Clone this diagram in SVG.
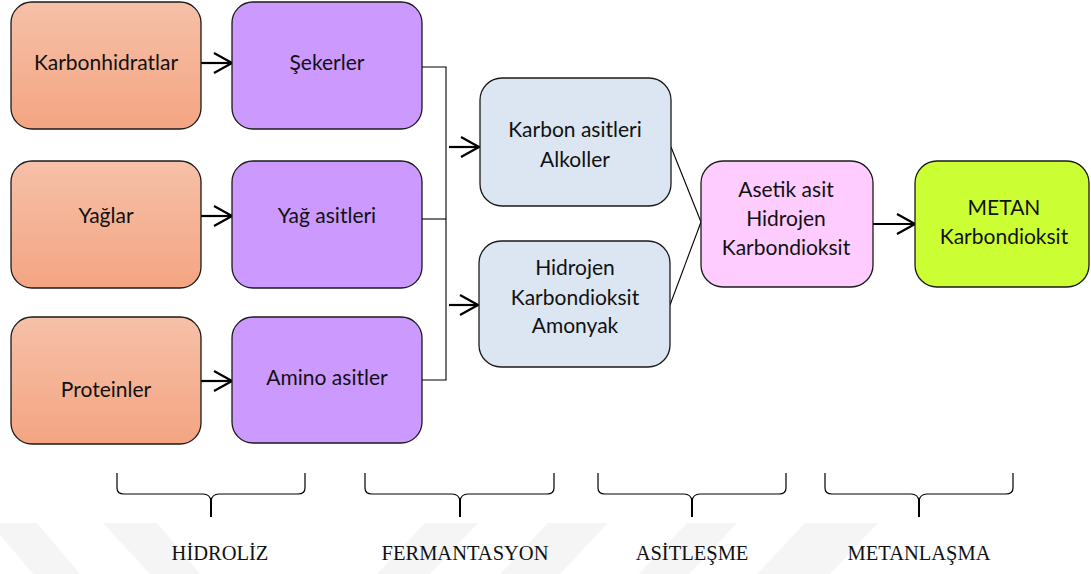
<svg xmlns="http://www.w3.org/2000/svg" width="1091" height="574" viewBox="0 0 1091 574">
<defs>
<linearGradient id="gOr" x1="0" y1="0" x2="0" y2="1">
<stop offset="0" stop-color="#F6C0A8"/>
<stop offset="1" stop-color="#F4A582"/>
</linearGradient>
<marker id="ah" viewBox="0 0 20 22" refX="19" refY="11" markerWidth="20" markerHeight="22" markerUnits="userSpaceOnUse" orient="auto">
<path d="M1,1 L19,11 L1,21" fill="none" stroke="#000" stroke-width="2.2"/>
</marker>
</defs>
<style>
.box{stroke:#1a1a1a;stroke-width:1.3}
.or{fill:url(#gOr)}
.pu{fill:#CC99FF}
.bl{fill:#DCE6F2}
.pk{fill:#FFCCFF}
.gr{fill:#CCFF33}
.t{font-family:Lato,"Open Sans",sans-serif;font-size:21px;fill:#111;text-anchor:middle}
.arr{stroke:#000;stroke-width:2.2;fill:none;marker-end:url(#ah)}
.ln{stroke:#000;stroke-width:1.1;fill:none}
.br{stroke:#000;stroke-width:1.2;fill:none}
.st{stroke:#000;stroke-width:2;fill:none}
.lab{font-family:"Liberation Serif","Times New Roman",serif;font-size:20.5px;fill:#111;text-anchor:middle}
.wm{fill:#f5f5f5}
</style>
<g id="watermark">
<polygon class="wm" points="-10,523 37,523 80,574 33,574"/>
<polygon class="wm" points="103,523 157,523 200,574 150,574"/>
<polygon class="wm" points="425,523 478,523 430,574 377,574"/>
<polygon class="wm" points="548,523 608,523 560,574 500,574"/>
<polygon class="wm" points="687,523 737,523 689,574 639,574"/>
<polygon class="wm" points="805,523 878,523 830,574 757,574"/>
</g>
<g id="connectors">
<line class="arr" x1="201" y1="63" x2="232" y2="63"/>
<line class="arr" x1="201" y1="216" x2="232" y2="216"/>
<line class="arr" x1="201" y1="381" x2="232" y2="381"/>
<polyline class="ln" points="422,67 446,67 446,380 422,380"/>
<line class="ln" x1="422" y1="219" x2="446" y2="219"/>
<line class="arr" x1="449" y1="147" x2="479" y2="147"/>
<line class="arr" x1="449" y1="305" x2="478" y2="305"/>
<line class="ln" x1="671" y1="147" x2="701" y2="222"/>
<line class="ln" x1="670" y1="305" x2="701" y2="222"/>
<line class="arr" x1="873" y1="224" x2="915" y2="224"/>
</g>
<g id="n-karbonhidratlar"><rect class="box or" x="11" y="2" width="190" height="127" rx="21"/><text class="t" x="106" y="70">Karbonhidratlar</text></g>
<g id="n-yaglar"><rect class="box or" x="11" y="161" width="190" height="127" rx="21"/><text class="t" x="106" y="223">Yağlar</text></g>
<g id="n-proteinler"><rect class="box or" x="11" y="317" width="190" height="127" rx="21"/><text class="t" x="106" y="397">Proteinler</text></g>
<g id="n-sekerler"><rect class="box pu" x="232" y="2" width="190" height="127" rx="21"/><text class="t" x="327" y="70">Şekerler</text></g>
<g id="n-yagasitleri"><rect class="box pu" x="232" y="161" width="190" height="127" rx="21"/><text class="t" x="327" y="223">Yağ asitleri</text></g>
<g id="n-aminoasitler"><rect class="box pu" x="232" y="317" width="190" height="126" rx="21"/><text class="t" x="327" y="385">Amino asitler</text></g>
<g id="n-karbonasitleri"><rect class="box bl" x="480" y="78" width="191" height="128" rx="22"/><text class="t" x="575" y="137">Karbon asitleri</text><text class="t" x="575" y="167">Alkoller</text></g>
<g id="n-hidrojen"><rect class="box bl" x="479" y="241" width="191" height="126" rx="22"/><text class="t" x="575" y="275">Hidrojen</text><text class="t" x="575" y="305">Karbondioksit</text><text class="t" x="575" y="333">Amonyak</text></g>
<g id="n-asetik"><rect class="box pk" x="701" y="161" width="172" height="126" rx="22"/><text class="t" x="786" y="197">Asetik asit</text><text class="t" x="786" y="226">Hidrojen</text><text class="t" x="786" y="255">Karbondioksit</text></g>
<g id="n-metan"><rect class="box gr" x="915" y="161" width="174" height="126" rx="22"/><text class="t" x="1004" y="215">METAN</text><text class="t" x="1004" y="244">Karbondioksit</text></g>
<g id="braces">
<path class="br" d="M117,473 L117,488 Q117,494 124,494 L203,494 Q210,494 211,501 M211,501 Q212,494 219,494 L298,494 Q305,494 305,488 L305,473"/>
<line class="st" x1="211" y1="500" x2="211" y2="517"/>
<path class="br" d="M365,473 L365,488 Q365,494 372,494 L452,494 Q459,494 460,501 M460,501 Q461,494 468,494 L547,494 Q554,494 554,488 L554,473"/>
<line class="st" x1="460" y1="500" x2="460" y2="517"/>
<path class="br" d="M598,473 L598,488 Q598,494 605,494 L684,494 Q691,494 692,501 M692,501 Q693,494 700,494 L779,494 Q786,494 786,488 L786,473"/>
<line class="st" x1="692" y1="500" x2="692" y2="517"/>
<path class="br" d="M825,473 L825,488 Q825,494 832,494 L911,494 Q918,494 919,501 M919,501 Q920,494 927,494 L1006,494 Q1013,494 1013,488 L1013,473"/>
<line class="st" x1="919" y1="500" x2="919" y2="517"/>
</g>
<g id="labels">
<text class="lab" x="220" y="560">HİDROLİZ</text>
<text class="lab" x="465" y="560">FERMANTASYON</text>
<text class="lab" x="692" y="560">ASİTLEŞME</text>
<text class="lab" x="919" y="560">METANLAŞMA</text>
</g>
</svg>
